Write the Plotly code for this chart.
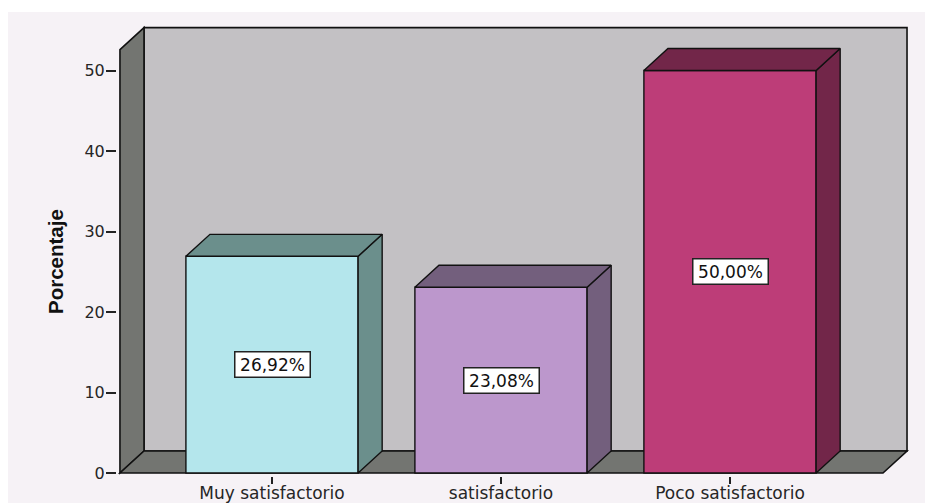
import plotly.graph_objects as go

# Survey results
categories = ["Muy satisfactorio", "satisfactorio", "Poco satisfactorio"]
percentages = [26.92, 23.08, 50.00]
value_labels = ["26,92%", "23,08%", "50,00%"]
y_ticks = [0, 10, 20, 30, 40, 50]

front_colors = ["#b4e6ec", "#bc97cc", "#bd3d78"]
shade_colors = ["#6b8f8c", "#735f7d", "#722649"]

WALL = "#c3c1c4"
FLOOR = "#737571"
PANEL = "#f6f2f6"
EDGE = "#111111"
TEXT = "#262626"

positions = list(range(len(categories)))
BAR_W = 0.752
DEPTH_X = 0.105   # oblique offset of the box, x units
DEPTH_Y = 2.73    # oblique offset of the box, y units
X_FRONT = (-0.664, 2.668)
Y_TOP = 52.6

W, H = 925, 503
M = dict(l=117, r=15, t=24, b=27)
X_RANGE = [-0.6769, 2.786]
Y_RANGE = [-0.373, 55.78]
PLOT_W = W - M["l"] - M["r"]
PLOT_H = H - M["t"] - M["b"]


def poly(xs, ys):
    pts = list(zip(xs, ys))
    return "M" + "L".join(f"{x},{y}" for x, y in pts) + "Z"


x0, x1 = X_FRONT
shapes = [
    # panel behind the chart, leaving a white strip top and left
    dict(type="rect", xref="paper", yref="paper", layer="below",
         x0=(8 - M["l"]) / PLOT_W,
         x1=(W - M["l"]) / PLOT_W,
         y0=(H - 503 - M["b"]) / PLOT_H,
         y1=(H - 12 - M["b"]) / PLOT_H,
         fillcolor=PANEL, line_width=0),
    # back wall
    dict(type="path", layer="below", fillcolor=WALL, line=dict(color=EDGE, width=1.6),
         path=poly([x0 + DEPTH_X, x1 + DEPTH_X, x1 + DEPTH_X, x0 + DEPTH_X],
                   [DEPTH_Y, DEPTH_Y, Y_TOP + DEPTH_Y, Y_TOP + DEPTH_Y])),
    # left wall
    dict(type="path", layer="below", fillcolor=FLOOR, line=dict(color=EDGE, width=1.6),
         path=poly([x0, x0 + DEPTH_X, x0 + DEPTH_X, x0],
                   [0, DEPTH_Y, Y_TOP + DEPTH_Y, Y_TOP])),
    # floor
    dict(type="path", layer="below", fillcolor=FLOOR, line=dict(color=EDGE, width=1.6),
         path=poly([x0, x1, x1 + DEPTH_X, x0 + DEPTH_X],
                   [0, 0, DEPTH_Y, DEPTH_Y])),
]

fig = go.Figure()

# Front faces
fig.add_trace(go.Bar(
    x=positions, y=percentages, width=BAR_W,
    marker=dict(color=front_colors, line=dict(color=EDGE, width=1.4)),
    hoverinfo="skip", showlegend=False,
))

# Oblique side and top faces of each bar
for xc, v, shade in zip(positions, percentages, shade_colors):
    left, right = xc - BAR_W / 2, xc + BAR_W / 2
    fig.add_trace(go.Scatter(
        x=[right, right + DEPTH_X, right + DEPTH_X, right, right],
        y=[0, DEPTH_Y, v + DEPTH_Y, v, 0],
        mode="lines", fill="toself", fillcolor=shade,
        line=dict(color=EDGE, width=1.4), hoverinfo="skip", showlegend=False,
    ))
    fig.add_trace(go.Scatter(
        x=[left, right, right + DEPTH_X, left + DEPTH_X, left],
        y=[v, v, v + DEPTH_Y, v + DEPTH_Y, v],
        mode="lines", fill="toself", fillcolor=shade,
        line=dict(color=EDGE, width=1.4), hoverinfo="skip", showlegend=False,
    ))

# Value boxes at mid-height of each bar
annotations = [
    dict(x=xc, y=v / 2, text=label, showarrow=False,
         font=dict(family="DejaVu Sans", size=17, color="#111111"),
         bgcolor="#ffffff", bordercolor="#222222", borderwidth=1.5,
         width=72, height=22)
    for xc, v, label in zip(positions, percentages, value_labels)
]

# Value axis title, centred on the lower part of the axis
annotations.append(dict(
    xref="paper", yref="paper", xanchor="center", yanchor="middle",
    x=(55 - M["l"]) / PLOT_W, y=(H - M["b"] - 262) / PLOT_H,
    text="<b>Porcentaje</b>", textangle=-90, showarrow=False,
    font=dict(family="Liberation Sans", size=20.5, color="#111111"),
))

fig.update_layout(
    width=W, height=H, margin=M,
    paper_bgcolor="#ffffff", plot_bgcolor="rgba(0,0,0,0)",
    shapes=shapes, annotations=annotations, showlegend=False,
    xaxis=dict(range=X_RANGE, tickmode="array", tickvals=positions, ticktext=categories,
               automargin=False, ticklabelstandoff=-5,
               ticks="outside", ticklen=7, tickwidth=1.5, tickcolor="#222222",
               showgrid=False, zeroline=False, showline=False,
               tickfont=dict(family="DejaVu Sans", size=17, color=TEXT)),
    yaxis=dict(range=Y_RANGE, tickmode="array", tickvals=y_ticks,
               automargin=False, ticklabelstandoff=-2,
               ticks="outside", ticklen=10, tickwidth=1.5, tickcolor="#222222",
               showgrid=False, zeroline=False, showline=False,
               tickfont=dict(family="DejaVu Sans", size=16, color=TEXT)),
)

fig.write_html("out.html")
